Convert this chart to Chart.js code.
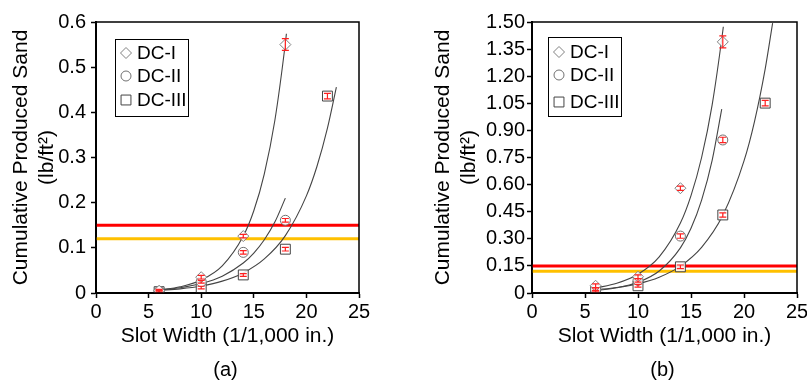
<!DOCTYPE html>
<html><head><meta charset="utf-8">
<script src="https://cdn.jsdelivr.net/npm/chart.js@4.4.1/dist/chart.umd.min.js"></script>
<style>
html,body{margin:0;padding:0;background:#fff;}
#wrap{position:relative;width:807px;height:383px;overflow:hidden;}
canvas{position:absolute;top:0;}
#c1{left:0;} #c2{left:403px;}
</style></head><body>
<div id="wrap"><canvas id="c1" width="403" height="383"></canvas><canvas id="c2" width="404" height="383"></canvas></div>
<script>
// ---------- data ----------
const xTicks = [0, 5, 10, 15, 20, 25];
const yTicksA = [0, 0.1, 0.2, 0.3, 0.4, 0.5, 0.6];
const yTicksB = [0, 0.15, 0.30, 0.45, 0.60, 0.75, 0.90, 1.05, 1.20, 1.35, 1.50];
const seriesNames = ['DC-I', 'DC-II', 'DC-III'];
const panelLabels = ['(a)', '(b)'];
const xTitle = 'Slot Width (1/1,000 in.)';
const yTitle = ['Cumulative Produced Sand', '(lb/ft²)'];

const slotX = [6, 10, 14, 18];
const slotX3 = [6, 10, 14, 18, 22];

// panel (a)
const sandA1 = [0.005, 0.035, 0.126, 0.55];
const sandA2 = [0.004, 0.025, 0.09, 0.161];
const sandA3 = [0.003, 0.012, 0.04, 0.097, 0.436];
const errA1 = [0.003, 0.004, 0.004, 0.013];
const errA2 = [0.002, 0.003, 0.004, 0.004];
const errA3 = [0.002, 0.003, 0.003, 0.004, 0.006];
// panel (b)
const sandB1 = [0.04, 0.09, 0.58, 1.39];
const sandB2 = [0.02, 0.07, 0.315, 0.847];
const sandB3 = [0.01, 0.04, 0.145, 0.432, 1.051];
const errB1 = [0.01, 0.01, 0.012, 0.033];
const errB2 = [0.008, 0.01, 0.012, 0.015];
const errB3 = [0.005, 0.008, 0.01, 0.012, 0.015];

// trend curves
const trendXA1 = [6, 8, 10, 12, 14, 15, 16, 17, 18, 18.1];
const trendYA1 = [0.0065, 0.0137, 0.0287, 0.060, 0.126, 0.182, 0.264, 0.382, 0.553, 0.574];
const trendXA2 = [6, 8, 10, 12, 14, 15, 16, 17, 18];
const trendYA2 = [0.0066, 0.0118, 0.021, 0.0373, 0.0663, 0.0885, 0.118, 0.157, 0.21];
const trendXA3 = [6, 8, 10, 12, 14, 16, 18, 20, 21, 22, 22.85];
const trendYA3 = [0.0054, 0.0092, 0.0155, 0.0263, 0.0445, 0.0754, 0.127, 0.215, 0.28, 0.365, 0.456];
const trendXB1 = [6, 8, 10, 12, 14, 15, 16, 17, 18, 18.05];
const trendYB1 = [0.0276, 0.0535, 0.1035, 0.2, 0.387, 0.539, 0.75, 1.043, 1.45, 1.474];
const trendXB2 = [6, 8, 10, 12, 14, 15, 16, 17, 17.9];
const trendYB2 = [0.014, 0.0288, 0.0592, 0.1217, 0.25, 0.358, 0.514, 0.736, 1.018];
const trendXB3 = [6, 8, 10, 12, 14, 16, 18, 20, 21, 22, 22.7];
const trendYB3 = [0.0179, 0.0304, 0.0516, 0.0877, 0.149, 0.253, 0.43, 0.731, 0.952, 1.241, 1.494];

const limitX = [0, 25];
const limitRed = 0.15;
const limitOrange = 0.12;

// ---------- styling ----------
Chart.defaults.font.family = "'Liberation Sans', Arial, Helvetica, sans-serif";
Chart.defaults.color = '#000';
const markerStyles = ['rectRot', 'circle', 'rect'];
const markerColors = ['#808080', '#707070', '#444444'];
const markerRadius = [5.5, 5, 7];

const pts = (xs, ys) => xs.map((x, i) => ({x: x, y: ys[i]}));

const decor = {
  id: 'decor',
  afterDatasetsDraw(chart) {
    const ctx = chart.ctx, xs = chart.scales.x, ys = chart.scales.y;
    chart.data.datasets.forEach(ds => {
      if (!ds.errors) return;
      ctx.save();
      ctx.strokeStyle = '#ff2020';
      ctx.lineWidth = 1.2;
      ds.data.forEach((p, j) => {
        const e = ds.errors[j];
        const px = xs.getPixelForValue(p.x);
        const y1 = ys.getPixelForValue(p.y + e), y2 = ys.getPixelForValue(p.y - e);
        ctx.beginPath();
        ctx.moveTo(px, y1); ctx.lineTo(px, y2);
        ctx.moveTo(px - 3.5, y1); ctx.lineTo(px + 3.5, y1);
        ctx.moveTo(px - 3.5, y2); ctx.lineTo(px + 3.5, y2);
        ctx.stroke();
      });
      ctx.restore();
    });
  },
  afterDraw(chart, args, opts) {
    const ctx = chart.ctx;
    const {left, right, top, bottom} = chart.chartArea;
    ctx.save();
    ctx.strokeStyle = '#000';
    ctx.lineWidth = 1.5;
    ctx.strokeRect(left, top, right - left, bottom - top);
    // legend box
    const lb = opts.legend;
    const bx = left + lb.dx, by = top + lb.dy;
    ctx.lineWidth = 1;
    ctx.strokeRect(bx + 0.5, by + 0.5, lb.w, lb.h);
    seriesNames.forEach((name, i) => {
      const yy = by + lb.rows[i];
      ctx.save();
      ctx.strokeStyle = markerColors[i]; ctx.fillStyle = '#fff'; ctx.lineWidth = 1;
      Chart.helpers.drawPoint(ctx, {pointStyle: markerStyles[i], radius: markerRadius[i], borderWidth: 1}, bx + 11, yy);
      ctx.restore();
      ctx.font = "19px 'Liberation Sans', Arial, sans-serif";
      ctx.fillStyle = '#000';
      ctx.textBaseline = 'middle';
      ctx.textAlign = 'left';
      ctx.fillText(name, bx + 22, yy + 1);
    });
    // panel label
    ctx.font = "20px 'Liberation Sans', Arial, sans-serif";
    ctx.fillStyle = '#000';
    ctx.textAlign = 'center';
    ctx.textBaseline = 'middle';
    ctx.fillText(opts.label, (left + right) / 2 - 2, 370);
    ctx.restore();
  }
};

function makeChart(id, p) {
  const datasets = [
    {data: pts(limitX, [limitRed, limitRed]), showLine: true, borderColor: '#ff0000', borderWidth: 3, pointRadius: 0, order: 3},
    {data: pts(limitX, [limitOrange, limitOrange]), showLine: true, borderColor: '#ffc000', borderWidth: 3, pointRadius: 0, order: 3},
  ];
  p.trends.forEach(t => datasets.push({
    data: pts(t[0], t[1]), showLine: true, borderColor: '#444', borderWidth: 1.1,
    pointRadius: 0, cubicInterpolationMode: 'monotone', order: 2
  }));
  p.series.forEach((s, i) => datasets.push({
    label: seriesNames[i], data: pts(s[0], s[1]), errors: s[2],
    pointStyle: markerStyles[i], pointRadius: markerRadius[i], borderWidth: 1,
    borderColor: markerColors[i], backgroundColor: 'rgba(255,255,255,0.85)', order: 1
  }));
  return new Chart(document.getElementById(id), {
    type: 'scatter',
    data: {datasets: datasets},
    plugins: [decor],
    options: {
      responsive: false, animation: false, devicePixelRatio: 1,
      layout: {padding: {left: 0, right: p.padRight, top: 22, bottom: 24}},
      plugins: {legend: {display: false}, tooltip: {enabled: false},
        decor: {legend: p.legend, label: p.label}},
      scales: {
        x: {
          type: 'linear', min: 0, max: 25,
          afterBuildTicks: s => { s.ticks = xTicks.map(v => ({value: v})); },
          afterFit: s => { s.height = 66; s.paddingLeft = 0; s.paddingRight = 0; },
          ticks: {font: {size: 20}, color: '#000', padding: 2, maxRotation: 0, autoSkip: false},
          grid: {drawOnChartArea: false, drawTicks: true, tickLength: 5, color: '#000', tickWidth: 1.5},
          border: {display: true, color: '#000', width: 2},
          title: {display: true, text: xTitle, font: {size: 21, lineHeight: 1.2}, color: '#000', padding: {top: 0, bottom: 10}}
        },
        y: {
          type: 'linear', min: 0, max: p.ymax,
          afterBuildTicks: s => { s.ticks = p.yTicks.map(v => ({value: v})); },
          afterFit: s => { s.width = p.yWidth; },
          ticks: {font: {size: p.yTickSize}, color: '#000', padding: p.yTickPad, autoSkip: false,
            callback: v => v === 0 ? '0' : v.toFixed(p.dec)},
          grid: {drawOnChartArea: false, drawTicks: true, tickLength: 5, color: '#000', tickWidth: 1.5},
          border: {display: true, color: '#000', width: 2},
          title: {display: true, text: yTitle, font: {size: 21, lineHeight: 1.2}, color: '#000', padding: {top: p.yTitlePad, bottom: 0}}
        }
      }
    }
  });
}

makeChart('c1', {
  ymax: 0.6, yTicks: yTicksA, dec: 1, yWidth: 96, yTickSize: 20, yTickPad: 5, yTitlePad: 9, padRight: 44,
  label: panelLabels[0],
  legend: {dx: 19, dy: 17, w: 73, h: 77, rows: [14, 37, 61]},
  trends: [[trendXA1, trendYA1], [trendXA2, trendYA2], [trendXA3, trendYA3]],
  series: [[slotX, sandA1, errA1], [slotX, sandA2, errA2], [slotX3, sandA3, errA3]]
});
makeChart('c2', {
  ymax: 1.5, yTicks: yTicksB, dec: 2, yWidth: 129, yTickSize: 20, yTickPad: 2, yTitlePad: 28, padRight: 10,
  label: panelLabels[1],
  legend: {dx: 16, dy: 15, w: 73, h: 79, rows: [15, 38, 65]},
  trends: [[trendXB1, trendYB1], [trendXB2, trendYB2], [trendXB3, trendYB3]],
  series: [[slotX, sandB1, errB1], [slotX, sandB2, errB2], [slotX3, sandB3, errB3]]
});
</script>
</body></html>
